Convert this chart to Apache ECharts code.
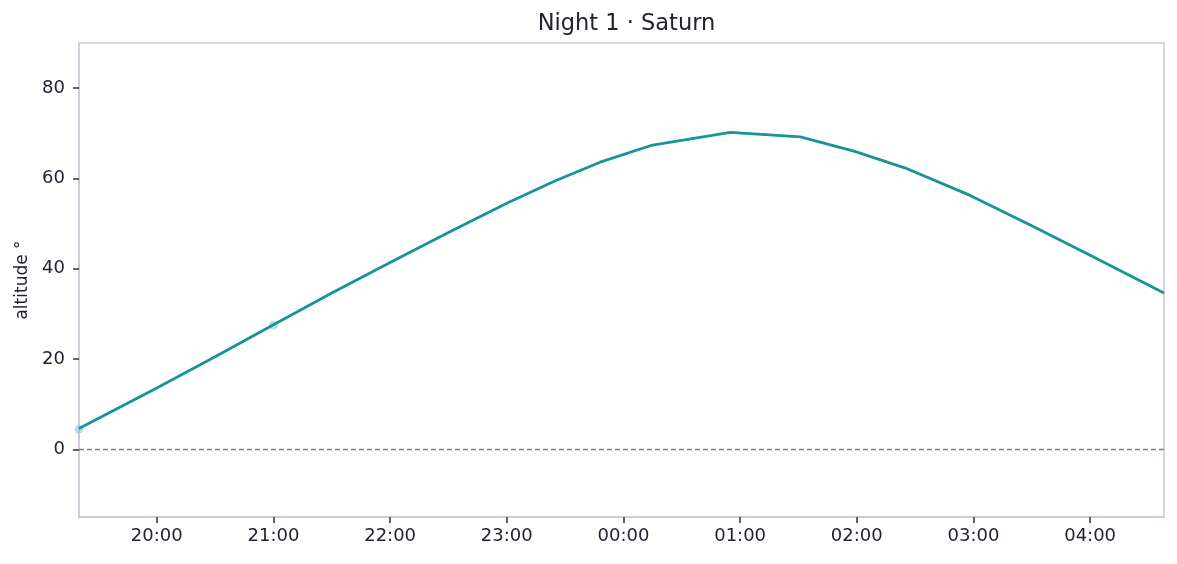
<!DOCTYPE html>
<html>
<head>
<meta charset="utf-8">
<script src="https://cdn.jsdelivr.net/npm/echarts@6/dist/echarts.min.js"></script>
<style>
html,body{margin:0;padding:0;background:#fff;}
#chart{width:1177px;height:564px;}
</style>
</head>
<body>
<div id="chart"></div>
<script>
// Data
const lineTimes = ["19:20","20:00","20:30","21:00","21:30","22:00","22:30","23:00","23:25","23:48","00:15","00:55","01:31","01:59","02:25","02:58","03:30","04:00","04:38"];
const lineAlt   = [4.6, 13.6, 20.5, 27.6, 34.6, 41.4, 48.0, 54.5, 59.5, 63.6, 67.4, 70.2, 69.2, 66.0, 62.3, 56.3, 49.5, 43.0, 34.6];
const markTimes = ["19:20","21:00"];
const markAlt   = [4.4, 27.5];
const xTickHours = [20,21,22,23,24,25,26,27,28];
const yTicks = [0,20,40,60,80];

function toHours(s){
  const p = s.split(':');
  let h = parseInt(p[0],10) + parseInt(p[1],10)/60;
  if (h < 12) h += 24;
  return h;
}
const lineData = lineTimes.map((t,i)=>[toHours(t), lineAlt[i]]);
const markData = markTimes.map((t,i)=>[toHours(t), markAlt[i]]);

const font = 'DejaVu Sans';
const gridLeft = 79, gridRight = 13, W = 1177;
const chart = echarts.init(document.getElementById('chart'), null, {renderer:'canvas'});
chart.setOption({
  animation:false,
  backgroundColor:'#ffffff',
  title:{
    text:'Night 1 · Saturn',
    left:(gridLeft + (W - gridRight)) / 2, top:8, textAlign:'center',
    textStyle:{fontFamily:font, fontSize:22.5, fontWeight:'normal', color:'#222233'}
  },
  grid:{left:gridLeft, right:gridRight, top:43, bottom:47, show:true, borderColor:'#c8c9d8', borderWidth:1.5, backgroundColor:'transparent'},
  xAxis:{
    type:'value',
    min: toHours("19:20"), max: toHours("04:38"),
    axisLine:{show:true, onZero:false, lineStyle:{color:'#c8c9d8', width:1.5}},
    axisTick:{show:true, length:6, customValues:xTickHours, lineStyle:{color:'#3a3a48', width:1.6}},
    axisLabel:{
      customValues:xTickHours, margin:10,
      fontFamily:font, fontSize:18, color:'#222233',
      formatter:function(v){ const h = Math.round(v)%24; return (h<10?'0':'')+h+':00'; }
    },
    splitLine:{show:false}
  },
  yAxis:{
    type:'value', min:-15, max:90,
    name:'altitude °', nameLocation:'middle', nameGap:47,
    nameTextStyle:{fontFamily:font, fontSize:17, color:'#222233'},
    axisLine:{show:true, onZero:false, lineStyle:{color:'#c8c9d8', width:1.5}},
    axisTick:{show:true, length:6, customValues:yTicks, lineStyle:{color:'#3a3a48', width:1.6}},
    axisLabel:{customValues:yTicks, margin:14, fontFamily:font, fontSize:18, color:'#222233'},
    splitLine:{show:false}
  },
  series:[
    {
      type:'scatter',
      data:markData,
      symbolSize:9,
      itemStyle:{color:'rgba(105,192,204,0.6)'},
      z:1
    },
    {
      type:'line',
      data:lineData,
      showSymbol:false,
      lineStyle:{color:'#17939a', width:2.8},
      z:3,
      markLine:{
        silent:true,
        symbol:['none','none'],
        label:{show:false},
        lineStyle:{type:[5,3], color:'#77779a', width:1.4},
        data:[{yAxis:0}]
      }
    }
  ]
});
</script>
</body>
</html>
